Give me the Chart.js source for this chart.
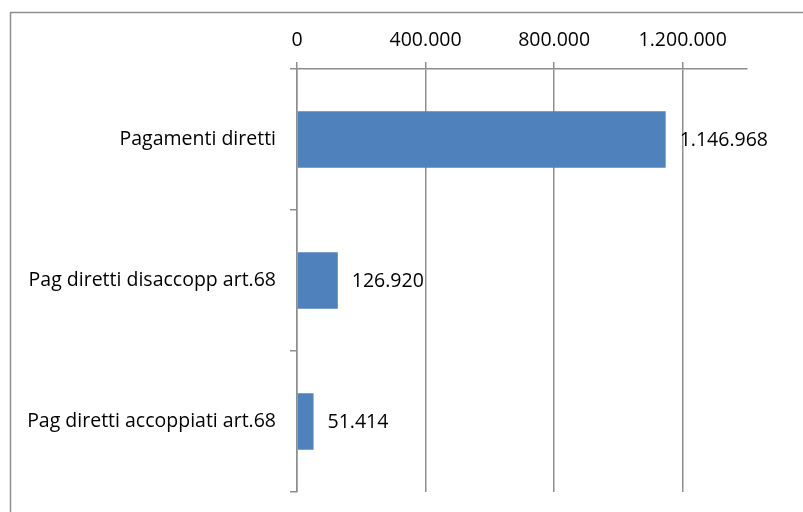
<!DOCTYPE html>
<html>
<head>
<meta charset="utf-8">
<script src="https://cdn.jsdelivr.net/npm/chart.js@4.4.1/dist/chart.umd.min.js"></script>
<style>
    html, body { margin: 0; padding: 0; background: #fff; }
    #wrap { position: relative; width: 803px; height: 512px; }
</style>
</head>
<body>
<div id="wrap"><canvas id="pagChart" width="803" height="512"></canvas></div>
<script>
// Categories and amounts (euro)
const categories = [
    'Pagamenti diretti',
    'Pag diretti disaccopp art.68',
    'Pag diretti accoppiati art.68'
];
const amounts = [1146968, 126920, 51414];
const tickValues = [0, 400000, 800000, 1200000];

// Thousands separator with dots
function fmt(n) {
    return String(Math.round(n)).replace(/\B(?=(\d{3})+(?!\d))/g, '.');
}

const lineGray = '#8e8e8e';
const font = { family: 'Open Sans', size: 19.5 };

// Frame around the whole chart
const framePlugin = {
    id: 'frame',
    beforeDraw(chart) {
        const ctx = chart.ctx;
        ctx.save();
        ctx.strokeStyle = lineGray;
        ctx.lineWidth = 1.5;
        ctx.beginPath();
        ctx.moveTo(10.5, 512);
        ctx.lineTo(10.5, 12.5);
        ctx.lineTo(803, 12.5);
        ctx.stroke();
        ctx.restore();
    }
};

// Value labels to the right of each bar
const valueLabels = {
    id: 'valueLabels',
    afterDatasetsDraw(chart) {
        const ctx = chart.ctx;
        const meta = chart.getDatasetMeta(0);
        ctx.save();
        ctx.font = font.size + 'px ' + font.family;
        ctx.fillStyle = '#000';
        ctx.textAlign = 'left';
        ctx.textBaseline = 'middle';
        meta.data.forEach((bar, i) => {
            ctx.fillText(fmt(amounts[i]), bar.x + 14, bar.y + 1);
        });
        ctx.restore();
    }
};

new Chart(document.getElementById('pagChart'), {
    type: 'bar',
    data: {
        labels: categories,
        datasets: [{
            data: amounts,
            backgroundColor: '#4f81bd',
            borderWidth: 0,
            categoryPercentage: 1,
            barPercentage: 0.4
        }]
    },
    options: {
        indexAxis: 'y',
        responsive: false,
        animation: false,
        layout: { padding: { top: 0, left: 0, right: 56, bottom: 20 } },
        plugins: {
            legend: { display: false },
            tooltip: { enabled: false }
        },
        scales: {
            x: {
                position: 'top',
                min: 0,
                max: 1400000,
                afterBuildTicks(axis) {
                    axis.ticks = tickValues.map(v => ({ value: v }));
                },
                afterFit(axis) {
                    axis.height = 69;
                    axis.paddingLeft = 0;
                    axis.paddingRight = 0;
                },
                ticks: {
                    color: '#000',
                    font: font,
                    padding: 10,
                    maxRotation: 0,
                    callback: v => fmt(v)
                },
                grid: {
                    color: lineGray,
                    lineWidth: 1.5,
                    tickLength: 7,
                    drawTicks: true
                },
                border: { color: lineGray, width: 1.5 }
            },
            y: {
                afterFit(axis) {
                    axis.width = 297;
                    axis.paddingTop = 0;
                    axis.paddingBottom = 0;
                },
                ticks: {
                    color: '#000',
                    font: font,
                    padding: 14
                },
                grid: {
                    offset: true,
                    drawOnChartArea: false,
                    color: lineGray,
                    lineWidth: 1.5,
                    tickLength: 7
                },
                border: { color: lineGray, width: 1.5 }
            }
        }
    },
    plugins: [framePlugin, valueLabels]
});
</script>
</body>
</html>
